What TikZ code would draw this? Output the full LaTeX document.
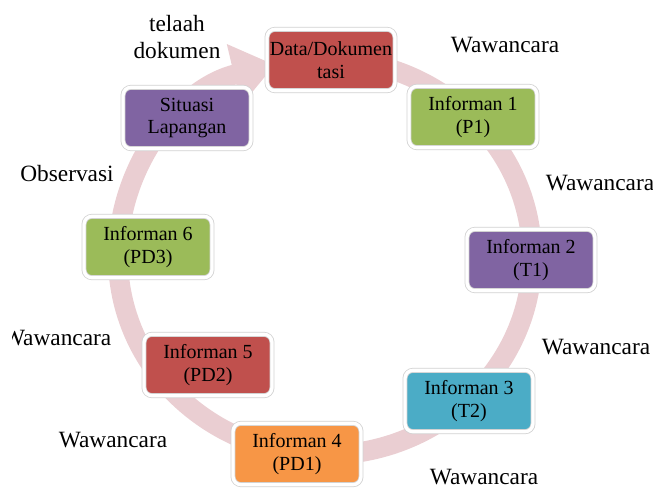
\documentclass[tikz,border=0pt]{standalone}
\usepackage{fontspec}
\setmainfont{Liberation Serif}
\usetikzlibrary{arrows.meta, shadows}

\definecolor{ringpink}{RGB}{234,206,210}
\definecolor{boxred}{RGB}{192,80,77}
\definecolor{boxgreen}{RGB}{155,187,89}
\definecolor{boxpurple}{RGB}{128,100,162}
\definecolor{boxteal}{RGB}{75,172,198}
\definecolor{boxorange}{RGB}{247,150,70}

\begin{document}
\begin{tikzpicture}[
  x=0.75pt, y=-0.75pt,
  %% ── node styles ────────────────────────────────────────────────────
  %% Coloured cycle boxes
  B/.style  ={rectangle, rounded corners=6pt,
               minimum width=96pt, minimum height=46pt,
               inner xsep=2pt, align=center, text=black,
               font=\fontsize{15}{17}\selectfont,
               draw=gray!35, line width=0.6pt,
               double=white, double distance=2.5pt,
               drop shadow={opacity=0.2, shadow xshift=1pt, shadow yshift=-1.5pt}},
  %% Free labels beside the ring
  lbl/.style={align=center, font=\fontsize{17.5}{20}\selectfont},
  %% The ring
  cyc/.style={line width=15pt, ringpink,
              -{Triangle[length=0pt 2.1, width=0pt 3.0]}},
]
\useasboundingbox (0,0) rectangle (653,495);

%% ════════════════════════════════════════════════════════════════════
%% RING  (ellipse centre 325/257, drawn first, behind the boxes)
%% ════════════════════════════════════════════════════════════════════
\draw[cyc] (325,257) ++(-97:207 and 198)
  arc[start angle=-97, end angle=256, x radius=207, y radius=198];

%% ════════════════════════════════════════════════════════════════════
%% BOXES  (clockwise from the top)
%% ════════════════════════════════════════════════════════════════════
\node[B, fill=boxred]    (data) at (331, 60)  {Data/Dokumen\\tasi};
\node[B, fill=boxgreen]  (inf1) at (473,117)  {Informan 1\\(P1)};
\node[B, fill=boxpurple] (inf2) at (531,260)  {Informan 2\\(T1)};
\node[B, fill=boxteal]   (inf3) at (469,401)  {Informan 3\\(T2)};
\node[B, fill=boxorange] (inf4) at (297,454)  {Informan 4\\(PD1)};
\node[B, fill=boxred]    (inf5) at (208,365)  {Informan 5\\(PD2)};
\node[B, fill=boxgreen]  (inf6) at (148,247)  {Informan 6\\(PD3)};
\node[B, fill=boxpurple] (sit)  at (187,118)  {Situasi\\Lapangan};

%% ── labels between the boxes ───────────────────────────────────────
\node[lbl] (ltel)  at (177, 37) {telaah\\dokumen};
\node[lbl] (lw1)   at (505, 45) {Wawancara};
\node[lbl] (lw2)   at (600,183) {Wawancara};
\node[lbl] (lw3)   at (596,347) {Wawancara};
\node[lbl] (lw4)   at (484,477) {Wawancara};
\node[lbl] (lw5)   at (113,440) {Wawancara};
\begin{scope}
  \clip (12,320) rectangle (140,360);   %% text box edge cuts the W
  \node[lbl, anchor=east] (lw6) at (116,338) {Wawancara};
\end{scope}
\node[lbl] (lobs)  at ( 67,174) {Observasi};

\end{tikzpicture}
\end{document}
